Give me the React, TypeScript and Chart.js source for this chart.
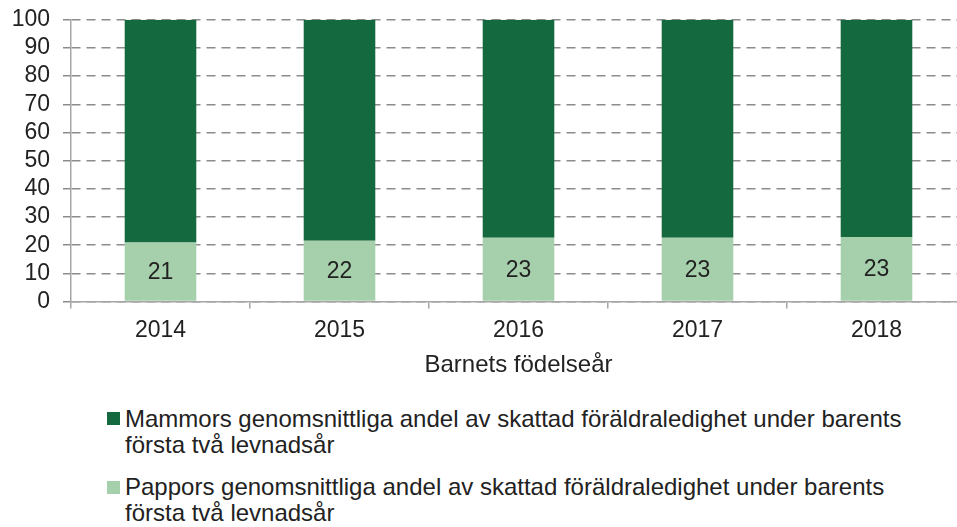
import React, { useEffect, useRef } from "react";
import { Chart, registerables } from "chart.js";

Chart.register(...registerables);

const categories = ["2014", "2015", "2016", "2017", "2018"];
const pappaValues = [20.9, 21.6, 22.6, 22.6, 22.9];
const mammaValues = [79.1, 78.4, 77.4, 77.4, 77.1];
const yMin = 0;
const yMax = 100;
const yStep = 10;
const mammaLabel = "Mammors genomsnittliga andel av skattad föräldraledighet under barents första två levnadsår";
const pappaLabel = "Pappors genomsnittliga andel av skattad föräldraledighet under barents första två levnadsår";
const mammaLines = ["Mammors genomsnittliga andel av skattad föräldraledighet under barents", "första två levnadsår"];
const pappaLines = ["Pappors genomsnittliga andel av skattad föräldraledighet under barents", "första två levnadsår"];
const xTitle = "Barnets födelseår";

const DARK = "#146a3e";
const LIGHT = "#a6cfab";
const FONT = "'Liberation Sans', Arial, sans-serif";
const TEXT = "#222222";

const barLabels = {
  id: "barLabels",
  afterDatasetsDraw(chart: any) {
    const ctx = chart.ctx;
    const meta = chart.getDatasetMeta(0);
    ctx.save();
    ctx.font = `23px ${FONT}`;
    ctx.fillStyle = TEXT;
    ctx.textAlign = "center";
    ctx.textBaseline = "middle";
    meta.data.forEach((bar: any, i: number) => {
      const y = (bar.y + bar.base) / 2;
      ctx.fillText(String(Math.round(pappaValues[i])), bar.x, y + 1);
    });
    ctx.restore();
  },
};

export default function App() {
  const ref = useRef<HTMLCanvasElement | null>(null);
  useEffect(() => {
    if (!ref.current) return;
    const chart = new Chart(ref.current, {
      type: "bar",
      data: {
        labels: categories,
        datasets: [
          { label: pappaLabel, data: pappaValues, backgroundColor: LIGHT, borderWidth: 0 },
          { label: mammaLabel, data: mammaValues, backgroundColor: DARK, borderWidth: 0 },
        ],
      },
      options: {
        animation: false,
        responsive: true,
        maintainAspectRatio: false,
        layout: { padding: { top: 7, right: 14, left: 0, bottom: 0 } },
        plugins: { legend: { display: false }, tooltip: { enabled: false } },
        datasets: { bar: { categoryPercentage: 1, barPercentage: 0.4 } },
        scales: {
          x: {
            stacked: true,
            grid: {
              offset: true,
              drawOnChartArea: false,
              drawTicks: true,
              tickLength: 7,
              color: "#a6a6a6",
              lineWidth: 1.5,
            },
            border: { display: true, color: "#a6a6a6", width: 1.5 },
            ticks: { color: TEXT, font: { family: FONT, size: 23 }, padding: 8, maxRotation: 0 },
            title: {
              display: true,
              text: xTitle,
              color: TEXT,
              font: { family: FONT, size: 24 },
              padding: { top: 0, bottom: 10 },
            },
            afterFit: (scale: any) => {
              scale.height = 88.5;
            },
          },
          y: {
            stacked: true,
            min: yMin,
            max: yMax,
            grid: {
              display: true,
              drawOnChartArea: true,
              color: "#8c8c8c",
              lineWidth: 1.5,
              tickLength: 8,
              tickColor: "#8c8c8c",
              tickBorderDash: [9, 6],
            },
            border: { display: true, color: "#a6a6a6", width: 1.5, dash: [9, 6] },
            ticks: {
              stepSize: yStep,
              autoSkip: false,
              color: TEXT,
              font: { family: FONT, size: 23 },
              padding: 13,
            },
            afterFit: (scale: any) => {
              scale.width = 71;
            },
          },
        },
      },
      plugins: [barLabels],
    });
    return () => chart.destroy();
  }, []);

  const textStyle: React.CSSProperties = {
    position: "absolute",
    left: 125,
    font: `24px ${FONT}`,
    lineHeight: "26px",
    color: TEXT,
    whiteSpace: "nowrap",
  };
  const marker = (color: string, top: number): React.CSSProperties => ({
    position: "absolute",
    left: 107,
    top,
    width: 13,
    height: 13,
    background: color,
  });

  return (
    <div
      style={{
        position: "fixed",
        left: 0,
        top: 0,
        width: 957,
        height: 527,
        overflow: "hidden",
        background: "#ffffff",
      }}
    >
      <div style={{ position: "absolute", left: 0, top: -7, width: 980, height: 397 }}>
        <canvas ref={ref} style={{ display: "block" }} />
      </div>
      <div style={marker(DARK, 412)} />
      <div style={{ ...textStyle, top: 406 }}>
        {mammaLines[0]}
        <br />
        {mammaLines[1]}
      </div>
      <div style={marker(LIGHT, 481)} />
      <div style={{ ...textStyle, top: 474 }}>
        {pappaLines[0]}
        <br />
        {pappaLines[1]}
      </div>
    </div>
  );
}
